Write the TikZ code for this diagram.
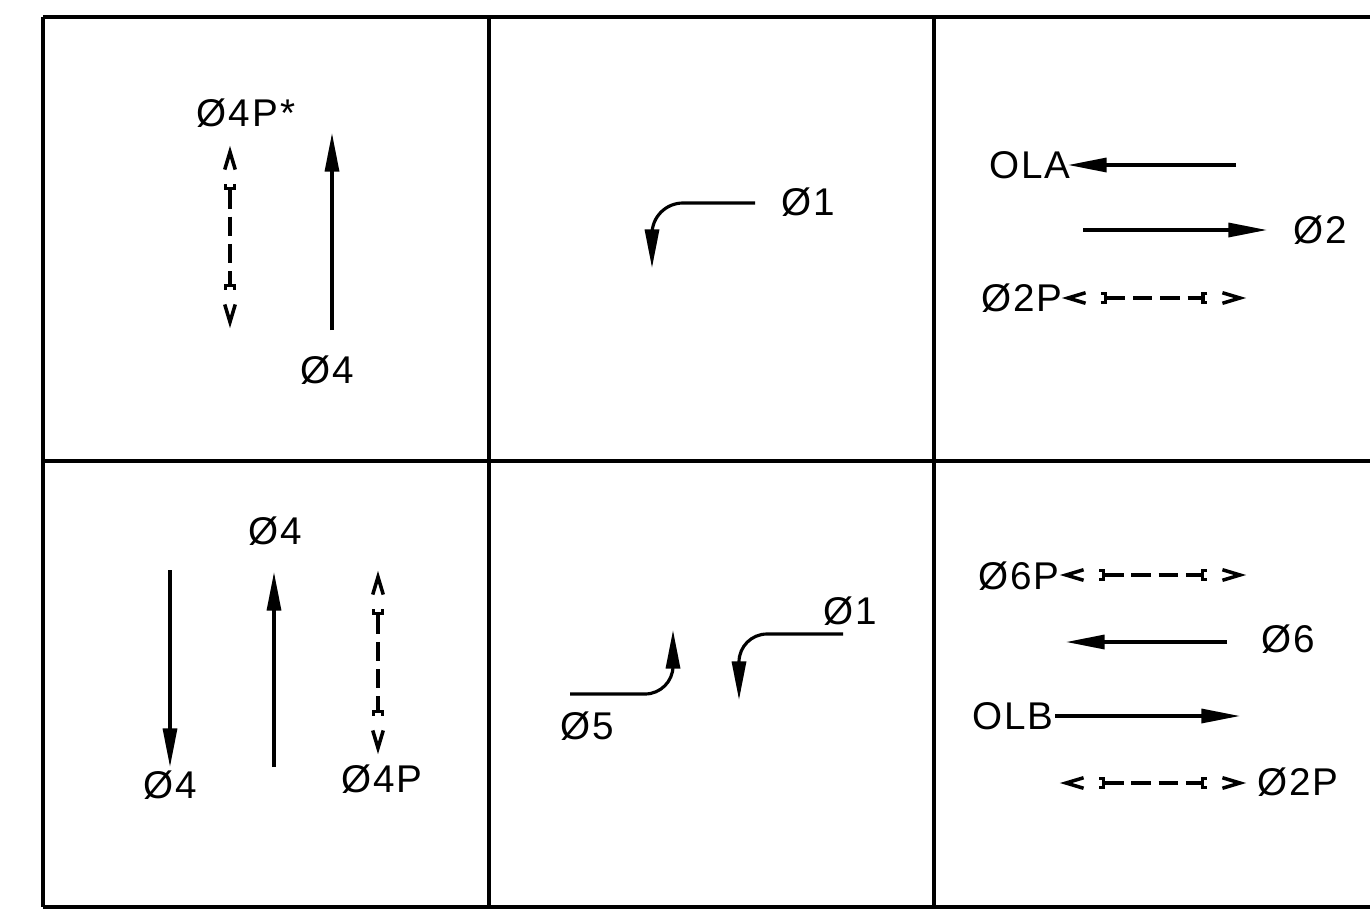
\documentclass[tikz,border=0pt]{standalone}
\usepackage{fontspec}
\setmainfont{Liberation Sans}[LetterSpace=5]
\usetikzlibrary{arrows.meta, calc}

\tikzset{
    grid line/.style={line width=2.1pt},
    move/.style={line width=1.8pt, -{Triangle[length=22pt, width=8pt]}},
    walk/.style={line width=2.2pt, dash pattern=on 11pt off 4.5pt,
        {Bracket[reversed, width=7pt, length=2.5pt, line width=1.8pt]}-{Bracket[reversed, width=7pt, length=2.5pt, line width=1.8pt]}},
    walk tip/.style={line width=2pt, line join=miter},
    lbl/.style={font=\fontsize{22}{26}\selectfont, inner sep=0pt, text height=15.5pt, text depth=0pt}
}

% pedestrian crossing between two named coordinates
\newcommand\pedwalk[2]{%
    \coordinate (#1-in) at ($(#1)!10pt!(#2)$);
    \coordinate (#2-in) at ($(#2)!10pt!(#1)$);
    \draw[walk tip] ($(#1-in)!3pt!90:(#2)$) -- (#1) -- ($(#1-in)!3pt!-90:(#2)$);
    \draw[walk tip] ($(#2-in)!3pt!90:(#1)$) -- (#2) -- ($(#2-in)!3pt!-90:(#1)$);
    \draw[walk] ($(#1)!0.19!(#2)$) -- ($(#2)!0.19!(#1)$);
}

\begin{document}
\begin{tikzpicture}[x=0.02cm, y=-0.02cm]
    \useasboundingbox (0,0) rectangle (1370,910);

    % grid
    \draw[grid line] (43,17) -- (1372,17);
    \draw[grid line] (43,461) -- (1372,461);
    \draw[grid line] (43,907) -- (1372,907);
    \draw[grid line] (43,17) -- (43,907);
    \draw[grid line] (489,17) -- (489,907);
    \draw[grid line] (934,17) -- (934,907);

    % cell 1
    \node[lbl] (p4p-star) at (246,113) {Ø4P*};
    \node[lbl] (p4-a) at (327,370) {Ø4};
    \coordinate (w1a) at (230,152);
    \coordinate (w1b) at (230,322);
    \pedwalk{w1a}{w1b}
    \coordinate (m1s) at (332,330);
    \coordinate (m1e) at (332,133);
    \draw[move] (m1s) -- (m1e);

    % cell 2
    \node[lbl] (p1-a) at (808,202) {Ø1};
    \coordinate (m2s) at (755,203);
    \coordinate (m2c) at (652,203);
    \coordinate (m2e) at (652,268);
    \draw[move, rounded corners=0.62cm] (m2s) -- (m2c) -- (m2e);

    % cell 3
    \node[lbl] (ola) at (1030,165) {OLA};
    \node[lbl] (p2) at (1320,230) {Ø2};
    \node[lbl] (p2p-a) at (1022,298) {Ø2P};
    \coordinate (m3s) at (1236,165);
    \coordinate (m3e) at (1068,165);
    \draw[move] (m3s) -- (m3e);
    \coordinate (m4s) at (1083,230);
    \coordinate (m4e) at (1267,230);
    \draw[move] (m4s) -- (m4e);
    \coordinate (w2a) at (1068,298);
    \coordinate (w2b) at (1240,298);
    \pedwalk{w2a}{w2b}

    % cell 4
    \node[lbl] (p4-b) at (275,531) {Ø4};
    \node[lbl] (p4-c) at (170,785) {Ø4};
    \node[lbl] (p4p) at (382,779) {Ø4P};
    \coordinate (m5s) at (170,570);
    \coordinate (m5e) at (170,767);
    \draw[move] (m5s) -- (m5e);
    \coordinate (m6s) at (274,767);
    \coordinate (m6e) at (274,572);
    \draw[move] (m6s) -- (m6e);
    \coordinate (w3a) at (378,577);
    \coordinate (w3b) at (378,748);
    \pedwalk{w3a}{w3b}

    % cell 5
    \node[lbl] (p5) at (587,726) {Ø5};
    \node[lbl] (p1-b) at (850,611) {Ø1};
    \coordinate (m7s) at (570,694);
    \coordinate (m7c) at (673,694);
    \coordinate (m7e) at (673,630);
    \draw[move, rounded corners=0.56cm] (m7s) -- (m7c) -- (m7e);
    \coordinate (m8s) at (843,634);
    \coordinate (m8c) at (739,634);
    \coordinate (m8e) at (739,700);
    \draw[move, rounded corners=0.56cm] (m8s) -- (m8c) -- (m8e);

    % cell 6
    \node[lbl] (p6p) at (1019,576) {Ø6P};
    \node[lbl] (p6) at (1288,639) {Ø6};
    \node[lbl] (olb) at (1013,716) {OLB};
    \node[lbl] (p2p-b) at (1298,782) {Ø2P};
    \coordinate (w4a) at (1066,575);
    \coordinate (w4b) at (1240,575);
    \pedwalk{w4a}{w4b}
    \coordinate (m9s) at (1227,642);
    \coordinate (m9e) at (1066,642);
    \draw[move] (m9s) -- (m9e);
    \coordinate (m10s) at (1055,716);
    \coordinate (m10e) at (1240,716);
    \draw[move] (m10s) -- (m10e);
    \coordinate (w5a) at (1066,783);
    \coordinate (w5b) at (1240,783);
    \pedwalk{w5a}{w5b}
\end{tikzpicture}
\end{document}
